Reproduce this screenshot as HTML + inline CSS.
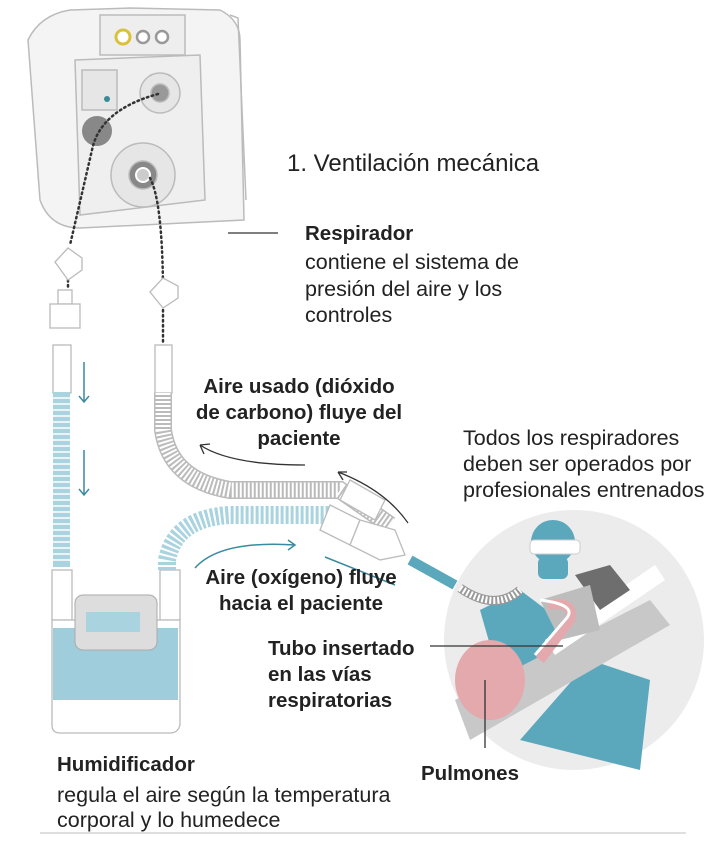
<!DOCTYPE html>
<html><head><meta charset="utf-8"><style>
body{margin:0;background:#fff;}
svg{display:block}
text{font-family:"Liberation Sans",sans-serif;fill:#222}
.b{font-weight:bold}
</style></head><body>
<svg width="720" height="865" viewBox="0 0 720 865">
<!-- circle scene -->
<circle cx="574" cy="640" r="130" fill="#ececec"/>
<path d="M520 740 L640 770 L650 680 L590 660 Z" fill="#5ba8bd"/>
<path d="M480 610 L520 590 L560 620 L540 680 L500 680 Z" fill="#5ba8bd"/>
<path d="M455 700 L650 600 L670 625 L470 740 Z" fill="#c8c8c8"/>
<path d="M545 640 L655 565 L665 580 L555 655 Z" fill="#fff"/>
<path d="M575 575 L610 565 L630 590 L600 610 Z" fill="#6e6e6e"/>
<path d="M540 600 L590 585 L600 630 L560 640 Z" fill="#bdbdbd"/>
<ellipse cx="490" cy="680" rx="35" ry="40" fill="#e3a9ad"/>
<path d="M548 605 Q575 600 570 620 L540 660" stroke="#e3a9ad" stroke-width="10" fill="none"/>
<path d="M540 600 Q580 605 565 620 L535 655" stroke="#fff" stroke-width="3" fill="none"/>
<circle cx="553" cy="542" r="22" fill="#5ba8bd"/>
<rect x="530" y="540" width="50" height="14" rx="4" fill="#fff" stroke="#ccc"/>
<rect x="538" y="557" width="30" height="22" rx="6" fill="#5ba8bd"/>
<!-- patient tube -->
<path d="M410 560 L455 585" stroke="#5ba8bd" stroke-width="10"/>
<path d="M460 588 Q495 612 520 590" stroke="#999" stroke-width="9" fill="none"/>
<path d="M460 588 Q495 612 520 590" stroke="#fff" stroke-width="7" fill="none" stroke-dasharray="2 2"/>
<!-- respirator -->
<g fill="#f4f4f4" stroke="#bbb" stroke-width="1.5">
<path d="M130 8 L220 10 Q240 20 240 40 L244 220 L80 228 Q50 228 40 200 L28 40 Q40 15 70 10 Z"/>
<path d="M230 15 L238 18 L246 200" fill="none"/>
<rect x="100" y="15" width="85" height="40" fill="#eee"/>
<path d="M75 60 L200 55 L205 200 L80 215 Z" fill="#efefef"/>
<rect x="82" y="70" width="35" height="40" fill="#e6e6e6"/>
<circle cx="160" cy="93" r="20" fill="#e6e6e6"/><circle cx="160" cy="93" r="9" fill="#999"/>
<circle cx="143" cy="175" r="32" fill="#e6e6e6"/><circle cx="143" cy="175" r="14" fill="#888"/><circle cx="143" cy="175" r="7" fill="#ccc" stroke="#fff" stroke-width="2"/>
</g>
<circle cx="123" cy="37" r="7" fill="#fff" stroke="#d9c23a" stroke-width="3"/>
<circle cx="143" cy="37" r="6" fill="#fff" stroke="#999" stroke-width="2.5"/>
<circle cx="162" cy="37" r="6" fill="#fff" stroke="#999" stroke-width="2.5"/>
<circle cx="107" cy="99" r="3" fill="#3a8a9a"/>
<circle cx="97" cy="131" r="15" fill="#888"/>
<g fill="none" stroke="#333" stroke-width="2.5" stroke-dasharray="1.5 3.5" stroke-linecap="round">
<path d="M158 94 Q100 110 92 150 L70 245"/>
<path d="M150 178 Q162 200 163 285"/>
<path d="M68 270 L68 288"/><path d="M163 300 L163 345"/>
</g>
<g fill="#fff" stroke="#bbb" stroke-width="1.3">
<path d="M55 262 L68 248 L82 258 L82 270 L68 280 Z"/>
<path d="M150 292 L163 278 L178 286 L178 298 L163 308 Z"/>
<rect x="58" y="290" width="14" height="14"/><rect x="50" y="304" width="30" height="24"/>
<rect x="53" y="345" width="18" height="48"/><rect x="155" y="345" width="17" height="48"/>
<rect x="52" y="570" width="20" height="50"/><rect x="160" y="570" width="20" height="50"/>
<path d="M52 620 L180 620 L180 725 Q178 733 170 733 L60 733 Q52 733 52 725 Z"/>
</g>
<rect x="53" y="392" width="17" height="175" fill="#a8d3df"/>
<g stroke="#fff" stroke-width="1.5">
<path d="M53 398H70M53 404H70M53 410H70M53 416H70M53 422H70M53 428H70M53 434H70M53 440H70M53 446H70M53 452H70M53 458H70M53 464H70M53 470H70M53 476H70M53 482H70M53 488H70M53 494H70M53 500H70M53 506H70M53 512H70M53 518H70M53 524H70M53 530H70M53 536H70M53 542H70M53 548H70M53 554H70M53 560H70"/>
</g>
<rect x="53" y="628" width="125" height="72" fill="#9fcddb"/>
<rect x="75" y="595" width="82" height="55" rx="8" fill="#ddd" stroke="#aaa"/>
<rect x="86" y="612" width="54" height="20" fill="#a8d3df"/>
<!-- gray return tube -->
<path d="M163 393 L163 430 Q170 480 230 490 L340 490 L390 525" stroke="#bbb" stroke-width="18" fill="none"/>
<path d="M163 393 L163 430 Q170 480 230 490 L340 490 L390 525" stroke="#fff" stroke-width="15" fill="none" stroke-dasharray="2 2"/>
<!-- blue supply tube -->
<path d="M167 570 L167 560 Q175 518 230 515 L330 515 L360 535" stroke="#a8d3df" stroke-width="18" fill="none" stroke-dasharray="3 2"/>
<g fill="#fff" stroke="#bbb" stroke-width="1.3">
<path d="M330 505 L360 520 L350 545 L320 530 Z"/><path d="M350 480 L385 500 L375 520 L340 500 Z"/>
<path d="M360 520 L395 530 L405 555 L380 560 L350 545 Z"/>
</g>
<!-- arrows -->
<g fill="none" stroke="#3a8aa0" stroke-width="1.5">
<path d="M84 362 V402 M79 396 L84 402 L89 396"/>
<path d="M84 450 V495 M79 489 L84 495 L89 489"/>
<path d="M195 568 Q220 540 295 545 M288 540 L295 545 L288 550"/>
<path d="M325 557 L395 585"/>
</g>
<g fill="none" stroke="#333" stroke-width="1.3">
<path d="M305 465 Q230 465 200 445 M200 445 L210 444 M200 445 L204 454"/>
<path d="M408 523 Q385 490 338 472 M338 472 L347 472 M338 472 L343 480"/>
<path d="M228 233 H278"/><path d="M430 646 H563"/><path d="M485 680 V748"/>
<path d="M40 833 H686" stroke="#ccc"/>
</g>
<text x="287" y="171" font-size="24">1. Ventilación mecánica</text>
<text x="305" y="240" font-size="20.5" class="b">Respirador</text>
<text x="305" y="269" font-size="21.5">contiene el sistema de</text>
<text x="305" y="296" font-size="21.5">presión del aire y los</text>
<text x="305" y="322" font-size="21.5">controles</text>
<g font-size="20.5" class="b" text-anchor="middle">
<text x="299" y="393">Aire usado (dióxido</text>
<text x="299" y="419">de carbono) fluye del</text>
<text x="299" y="445">paciente</text>
<text x="301" y="584">Aire (oxígeno) fluye</text>
<text x="301" y="610">hacia el paciente</text>
</g>
<g font-size="21.5">
<text x="463" y="445">Todos los respiradores</text>
<text x="463" y="471">deben ser operados por</text>
<text x="463" y="497">profesionales entrenados</text>
</g>
<g font-size="20.5" class="b">
<text x="268" y="655">Tubo insertado</text>
<text x="268" y="681">en las vías</text>
<text x="268" y="707">respiratorias</text>
<text x="421" y="780">Pulmones</text>
<text x="57" y="771">Humidificador</text>
</g>
<text x="57" y="802" font-size="21.5">regula el aire según la temperatura</text>
<text x="57" y="827" font-size="21.5">corporal y lo humedece</text>
</svg>
</body></html>
